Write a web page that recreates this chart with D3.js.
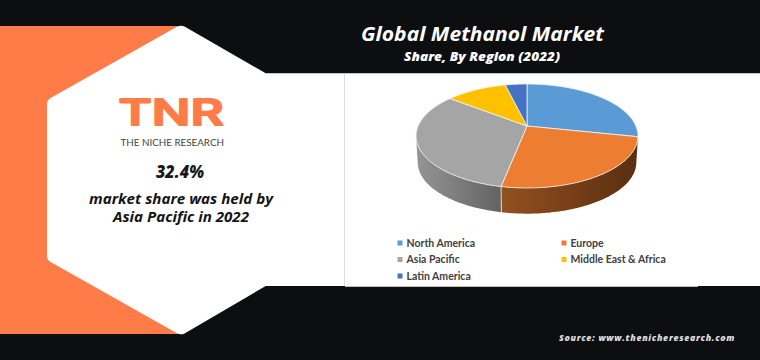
<!DOCTYPE html>
<html>
<head>
<meta charset="utf-8">
<script src="https://cdn.jsdelivr.net/npm/d3@7"></script>
<style>
  html, body { margin: 0; padding: 0; background: #0d0e10; overflow: hidden; }
  svg { display: block; }
</style>
</head>
<body>
<svg id="chart" width="760" height="360"></svg>
<script>
// Values
const regions = ["North America", "Europe", "Asia Pacific", "Middle East & Africa", "Latin America"];
const shares = [28.3, 24.8, 32.4, 10.7, 3.8];
const colors = ["#5b9bd5", "#ed7d31", "#a5a5a5", "#ffc000", "#4472c4"];
const wallLeft = ["#3f6f9b", "#93511f", "#959595", "#b88a00", "#2f5597"];
const wallRight = ["#3f6f9b", "#5a2e10", "#636363", "#b88a00", "#2f5597"];

const svg = d3.select("#chart");
const font = "'Open Sans', sans-serif";

// Panels behind the chart
svg.append("rect").attr("width", 760).attr("height", 360).attr("fill", "#0d0e10");
svg.append("rect").attr("x", 0).attr("y", 26).attr("width", 182).attr("height", 308).attr("fill", "#ff7b47");

// White hexagon running into the chart panel, with rounded corners
let hex = d3.path();
hex.moveTo(47, 180);
hex.arcTo(47, 100, 181, 24.5, 7);
hex.arcTo(181, 24.5, 265.7, 73.3, 8);
hex.lineTo(265.7, 73.3);
hex.lineTo(760, 73.3);
hex.lineTo(760, 286);
hex.lineTo(265.7, 286);
hex.arcTo(181, 335.5, 47, 260, 8);
hex.arcTo(47, 260, 47, 180, 7);
hex.closePath();
svg.append("path").attr("d", hex.toString()).attr("fill", "#ffffff");

svg.append("line").attr("x1", 344.5).attr("x2", 344.5).attr("y1", 74).attr("y2", 286)
  .attr("stroke", "#dcdcdc").attr("stroke-width", 1);
svg.append("line").attr("x1", 345).attr("x2", 698).attr("y1", 286.5).attr("y2", 286.5)
  .attr("stroke", "#bdbdbd").attr("stroke-width", 1);

// Tilted pie: a circle (u, v) pushed through a small perspective, so the
// middle of the pie sits above the middle of the ellipse
const apex = { x: 527, y: 126 };
const persp = { b: 108.9, a: 50.08, k: 0.192 };
const wall = { depth: 26.6, shrink: 0.985 };

function project(angle, lower) {
  let u = Math.sin(angle), v = -Math.cos(angle);
  let w = 1 - persp.k * v;
  let s = lower ? wall.shrink : 1;
  return [
    apex.x + s * persp.b * u / w,
    apex.y + s * persp.a * v / w + (lower ? wall.depth : 0)
  ];
}

function arcAngles(a0, a1) {
  let n = Math.max(2, Math.ceil((a1 - a0) / 0.02));
  return d3.range(n + 1).map(i => a0 + (a1 - a0) * i / n);
}

const arcs = d3.pie().sort(null).value(d => d)(shares);
const line = d3.line();
const defs = svg.append("defs");
const pieG = svg.append("g");

// Side wall: only the front part of the rim shows
const frontStart = Math.PI - Math.acos(persp.k);
const frontEnd = Math.PI + Math.acos(persp.k);

arcs.forEach((d, i) => {
  let a0 = Math.max(d.startAngle, frontStart);
  let a1 = Math.min(d.endAngle, frontEnd);
  if (a1 <= a0) return;
  let angles = arcAngles(a0, a1);
  let top = angles.map(a => project(a, false));
  let bottom = angles.slice().reverse().map(a => project(a, true));
  let xs = top.map(p => p[0]);
  let id = "wall" + i;
  let grad = defs.append("linearGradient").attr("id", id)
    .attr("gradientUnits", "userSpaceOnUse")
    .attr("x1", d3.min(xs)).attr("x2", d3.max(xs)).attr("y1", 0).attr("y2", 0);
  grad.append("stop").attr("offset", 0).attr("stop-color", wallLeft[i]);
  grad.append("stop").attr("offset", 1).attr("stop-color", wallRight[i]);
  pieG.append("path")
    .attr("d", line(top.concat(bottom)) + "Z")
    .attr("fill", "url(#" + id + ")");
});

// Seam between the two walls
let seam = arcs[1].endAngle;
pieG.append("path").attr("d", line([project(seam, false), project(seam, true)]))
  .attr("stroke", "#f0f0f0").attr("stroke-width", 0.8);

// Top face
arcs.forEach((d, i) => {
  let rim = arcAngles(d.startAngle, d.endAngle).map(a => project(a, false));
  pieG.append("path")
    .attr("d", line([[apex.x, apex.y]].concat(rim)) + "Z")
    .attr("fill", colors[i])
    .attr("stroke", "#f4f4f4").attr("stroke-width", 0.8).attr("stroke-linejoin", "round");
});

// Legend
const legendX = d3.scaleOrdinal().domain([0, 1]).range([400, 564]);
const legendY = d3.scalePoint().domain([0, 1, 2]).range([243, 276]);
const legend = svg.append("g").selectAll("g").data(regions).enter().append("g")
  .attr("transform", (d, i) => "translate(" + legendX(i % 2) + "," + legendY(Math.floor(i / 2)) + ")");
legend.append("rect").attr("x", -2.5).attr("y", -2.5).attr("width", 5).attr("height", 5)
  .attr("fill", (d, i) => colors[i]);
legend.append("text").attr("x", 6.5).attr("y", 3.6)
  .attr("font-family", "Lato, sans-serif").attr("font-size", 10.5).attr("font-weight", 700)
  .attr("fill", "#404040").text(d => d);

// Text blocks are fitted to the width they have in the picture
function label(txt, x1, x2, y, size, weight, fill, family, style) {
  return svg.append("text")
    .attr("x", x1).attr("y", y)
    .attr("textLength", x2 - x1).attr("lengthAdjust", "spacingAndGlyphs")
    .attr("font-family", family || font).attr("font-size", size)
    .attr("font-weight", weight).attr("font-style", style || "italic")
    .attr("fill", fill).text(txt);
}

label("Global Methanol Market", 361, 604, 41, 19, 700, "#ffffff");
label("Share, By Region (2022)", 404, 560, 61, 12.5, 800, "#ffffff");
label("Source: www.thenicheresearch.com", 559, 734.5, 341, 8.8, 800, "#dddddd").attr("lengthAdjust", "spacing");

label("TNR", 118.5, 223.5, 125.2, 35.5, 500, "#ff7b47", "Inter, sans-serif", "normal")
  .attr("stroke", "#ff7b47").attr("stroke-width", 2).attr("stroke-linejoin", "round");
label("THE NICHE RESEARCH", 120.5, 224, 146, 10.4, 400, "#444444", "Lato, sans-serif", "normal");

label("32.4%", 156, 204, 178, 17, 800, "#1a1a1a");
label("market share was held by", 89, 273, 204, 13.8, 700, "#141414");
label("Asia Pacific in 2022", 113, 249, 222, 13.8, 700, "#141414");
</script>
</body>
</html>
